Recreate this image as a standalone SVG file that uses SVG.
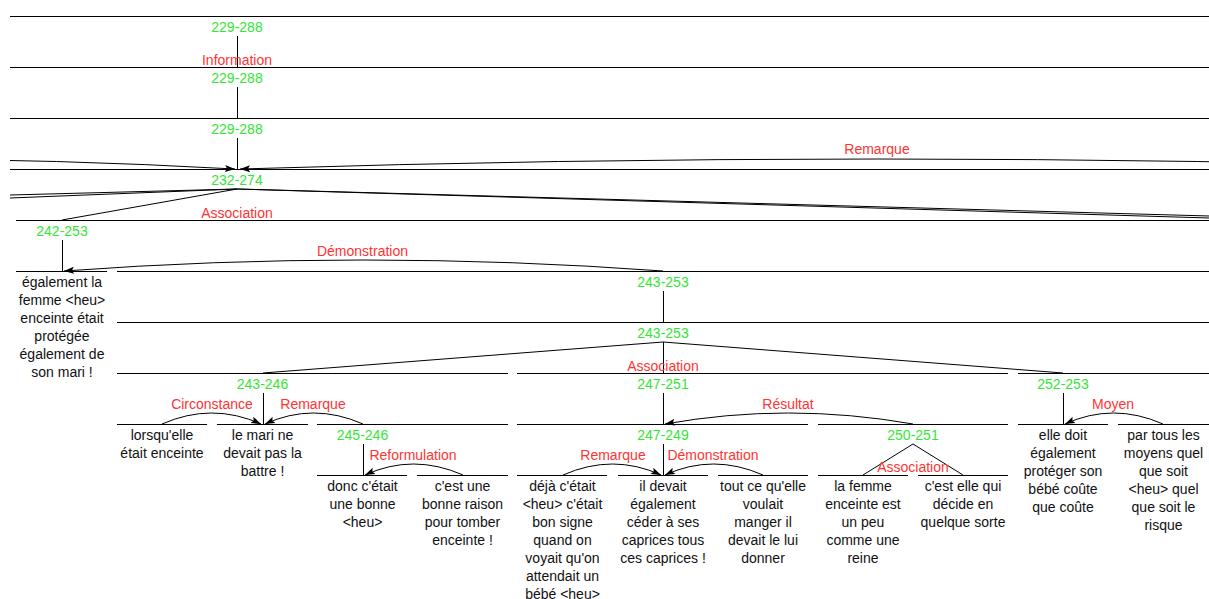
<svg xmlns="http://www.w3.org/2000/svg" width="1209" height="599" viewBox="0 0 1209 599">
<style>
.sp{stroke:#000;stroke-width:1;fill:none}
.cn{stroke:#000;stroke-width:1;fill:none}
.arc{stroke:#000;stroke-width:1;fill:none;marker-end:url(#ah)}
text{font-family:"Liberation Sans",Arial,sans-serif;font-size:14px;text-anchor:middle}
.lb{fill:#33e633}
.rl{fill:#ff3333}
.tx{fill:#111}
</style>
<defs>
<marker id="ah" markerUnits="userSpaceOnUse" markerWidth="12" markerHeight="10" refX="10" refY="4" orient="auto" viewBox="0 0 12 10">
<path d="M0,0.5 L10,4 L0,7.5 L2,4 Z" fill="#000"/>
</marker>
<clipPath id="view"><rect x="10" y="0" width="1199" height="599"/></clipPath>
</defs>
<rect width="1209" height="599" fill="#fff"/>

<g id="n229-288a"><line class="sp" x1="10" y1="16.5" x2="1209" y2="16.5"/><text class="lb" x="237" y="32">229-288</text></g>
<g id="n229-288b"><line class="sp" x1="10" y1="67.5" x2="1209" y2="67.5"/><text class="lb" x="237" y="83">229-288</text></g>
<g id="n229-288c"><line class="sp" x1="10" y1="118.5" x2="1209" y2="118.5"/><text class="lb" x="237" y="134">229-288</text></g>
<g id="n232-274"><line class="sp" x1="10" y1="169.5" x2="1209" y2="169.5"/><text class="lb" x="237" y="185">232-274</text></g>
<g id="n242-253"><line class="sp" x1="16" y1="220.5" x2="1209" y2="220.5"/><text class="lb" x="62" y="236">242-253</text></g>
<g id="n242"><line class="sp" x1="16" y1="271.5" x2="107" y2="271.5"/>
<text class="tx" y="287"><tspan x="62">également la</tspan><tspan x="62" dy="18">femme &lt;heu&gt;</tspan><tspan x="62" dy="18">enceinte était</tspan><tspan x="62" dy="18">protégée</tspan><tspan x="62" dy="18">également de</tspan><tspan x="62" dy="18">son mari !</tspan></text></g>
<g id="n243-253a"><line class="sp" x1="117" y1="271.5" x2="1209" y2="271.5"/><text class="lb" x="663" y="287">243-253</text></g>
<g id="n243-253b"><line class="sp" x1="117" y1="322.5" x2="1209" y2="322.5"/><text class="lb" x="663" y="338">243-253</text></g>
<g id="n243-246"><line class="sp" x1="117" y1="373.5" x2="508" y2="373.5"/><text class="lb" x="262.5" y="389">243-246</text></g>
<g id="n247-251"><line class="sp" x1="517" y1="373.5" x2="1008" y2="373.5"/><text class="lb" x="663" y="389">247-251</text></g>
<g id="n252-253"><line class="sp" x1="1018" y1="373.5" x2="1209" y2="373.5"/><text class="lb" x="1063" y="389">252-253</text></g>
<g id="n243"><line class="sp" x1="117" y1="424.5" x2="207" y2="424.5"/>
<text class="tx" y="440"><tspan x="162">lorsqu'elle</tspan><tspan x="162" dy="18">était enceinte</tspan></text></g>
<g id="n244"><line class="sp" x1="217" y1="424.5" x2="308" y2="424.5"/>
<text class="tx" y="440"><tspan x="262.5">le mari ne</tspan><tspan x="262.5" dy="18">devait pas la</tspan><tspan x="262.5" dy="18">battre !</tspan></text></g>
<g id="n245-246"><line class="sp" x1="317" y1="424.5" x2="508" y2="424.5"/><text class="lb" x="362.5" y="440">245-246</text></g>
<g id="n247-249"><line class="sp" x1="517" y1="424.5" x2="808" y2="424.5"/><text class="lb" x="663" y="440">247-249</text></g>
<g id="n250-251"><line class="sp" x1="818" y1="424.5" x2="1008" y2="424.5"/><text class="lb" x="913" y="440">250-251</text></g>
<g id="n252"><line class="sp" x1="1018" y1="424.5" x2="1108" y2="424.5"/>
<text class="tx" y="440"><tspan x="1063">elle doit</tspan><tspan x="1063" dy="18">également</tspan><tspan x="1063" dy="18">protéger son</tspan><tspan x="1063" dy="18">bébé coûte</tspan><tspan x="1063" dy="18">que coûte</tspan></text></g>
<g id="n253"><line class="sp" x1="1118" y1="424.5" x2="1209" y2="424.5"/>
<text class="tx" y="440"><tspan x="1163.5">par tous les</tspan><tspan x="1163.5" dy="18">moyens quel</tspan><tspan x="1163.5" dy="18">que soit</tspan><tspan x="1163.5" dy="18">&lt;heu&gt; quel</tspan><tspan x="1163.5" dy="18">que soit le</tspan><tspan x="1163.5" dy="18">risque</tspan></text></g>
<g id="n245"><line class="sp" x1="317" y1="475.5" x2="407" y2="475.5"/>
<text class="tx" y="491"><tspan x="362.5">donc c'était</tspan><tspan x="362.5" dy="18">une bonne</tspan><tspan x="362.5" dy="18">&lt;heu&gt;</tspan></text></g>
<g id="n246"><line class="sp" x1="417" y1="475.5" x2="508" y2="475.5"/>
<text class="tx" y="491"><tspan x="462.5">c'est une</tspan><tspan x="462.5" dy="18">bonne raison</tspan><tspan x="462.5" dy="18">pour tomber</tspan><tspan x="462.5" dy="18">enceinte !</tspan></text></g>
<g id="n247"><line class="sp" x1="517" y1="475.5" x2="607" y2="475.5"/>
<text class="tx" y="491"><tspan x="562.5">déjà c'était</tspan><tspan x="562.5" dy="18">&lt;heu&gt; c'était</tspan><tspan x="562.5" dy="18">bon signe</tspan><tspan x="562.5" dy="18">quand on</tspan><tspan x="562.5" dy="18">voyait qu'on</tspan><tspan x="562.5" dy="18">attendait un</tspan><tspan x="562.5" dy="18">bébé &lt;heu&gt;</tspan></text></g>
<g id="n248"><line class="sp" x1="618" y1="475.5" x2="708" y2="475.5"/>
<text class="tx" y="491"><tspan x="663">il devait</tspan><tspan x="663" dy="18">également</tspan><tspan x="663" dy="18">céder à ses</tspan><tspan x="663" dy="18">caprices tous</tspan><tspan x="663" dy="18">ces caprices !</tspan></text></g>
<g id="n249"><line class="sp" x1="718" y1="475.5" x2="808" y2="475.5"/>
<text class="tx" y="491"><tspan x="763">tout ce qu'elle</tspan><tspan x="763" dy="18">voulait</tspan><tspan x="763" dy="18">manger il</tspan><tspan x="763" dy="18">devait le lui</tspan><tspan x="763" dy="18">donner</tspan></text></g>
<g id="n250"><line class="sp" x1="818" y1="475.5" x2="908" y2="475.5"/>
<text class="tx" y="491"><tspan x="863">la femme</tspan><tspan x="863" dy="18">enceinte est</tspan><tspan x="863" dy="18">un peu</tspan><tspan x="863" dy="18">comme une</tspan><tspan x="863" dy="18">reine</tspan></text></g>
<g id="n251"><line class="sp" x1="918" y1="475.5" x2="1008" y2="475.5"/>
<text class="tx" y="491"><tspan x="963">c'est elle qui</tspan><tspan x="963" dy="18">décide en</tspan><tspan x="963" dy="18">quelque sorte</tspan></text></g>

<g id="connectors" clip-path="url(#view)">
<line class="cn" x1="237.5" y1="36" x2="237.5" y2="67"/>
<line class="cn" x1="237.5" y1="87" x2="237.5" y2="118"/>
<line class="cn" x1="237.5" y1="138" x2="237.5" y2="169"/>
<line class="cn" x1="62.5" y1="240" x2="62.5" y2="271"/>
<line class="cn" x1="663.5" y1="291" x2="663.5" y2="322"/>
<line class="cn" x1="663.5" y1="342" x2="663.5" y2="373"/>
<line class="cn" x1="263.5" y1="393" x2="263.5" y2="424"/>
<line class="cn" x1="663.5" y1="393" x2="663.5" y2="424"/>
<line class="cn" x1="1063.5" y1="393" x2="1063.5" y2="424"/>
<line class="cn" x1="363.5" y1="444" x2="363.5" y2="475"/>
<line class="cn" x1="663.5" y1="444" x2="663.5" y2="475"/>
<line class="cn" x1="237" y1="189" x2="62" y2="220"/>
<line class="cn" x1="237" y1="189" x2="10" y2="195"/>
<line class="cn" x1="237" y1="189" x2="10" y2="198"/>
<line class="cn" x1="237" y1="189" x2="1276" y2="220"/>
<line class="cn" x1="237" y1="189" x2="1353" y2="220"/>
<line class="cn" x1="663" y1="342" x2="263" y2="373"/>
<line class="cn" x1="663" y1="342" x2="1063" y2="373"/>
<line class="cn" x1="913" y1="444" x2="863" y2="475"/>
<line class="cn" x1="913" y1="444" x2="963" y2="475"/>
<path class="arc" d="M-481,169 Q-122,149 235,169"/>
<path class="arc" d="M1517,169 Q877,149 240,169"/>
<path class="arc" d="M663,271 Q362.5,249 64,271"/>
<path class="arc" d="M162,424 Q212,402 261,424"/>
<path class="arc" d="M363,424 Q313,402 265,424"/>
<path class="arc" d="M913,424 Q788,402 665,424"/>
<path class="arc" d="M1163,424 Q1113,402 1065,424"/>
<path class="arc" d="M463,475 Q413,453 365,475"/>
<path class="arc" d="M563,475 Q613,453 661,475"/>
<path class="arc" d="M763,475 Q713,453 665,475"/>
<text class="rl" x="237" y="65">Information</text>
<text class="rl" x="877" y="154">Remarque</text>
<text class="rl" x="237" y="218">Association</text>
<text class="rl" x="362.5" y="256">Démonstration</text>
<text class="rl" x="663" y="371">Association</text>
<text class="rl" x="212" y="409">Circonstance</text>
<text class="rl" x="313" y="409">Remarque</text>
<text class="rl" x="788" y="409">Résultat</text>
<text class="rl" x="1113" y="409">Moyen</text>
<text class="rl" x="413" y="460">Reformulation</text>
<text class="rl" x="613" y="460">Remarque</text>
<text class="rl" x="713" y="460">Démonstration</text>
<text class="rl" x="913" y="472">Association</text>
</g>
</svg>
